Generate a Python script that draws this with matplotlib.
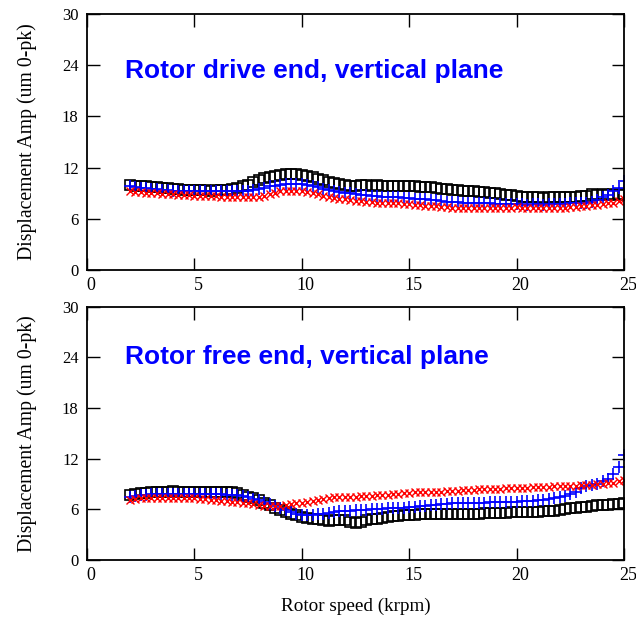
import matplotlib
matplotlib.use("Agg")
import matplotlib.pyplot as plt
import matplotlib.transforms as mtransforms
import numpy as np

# ---- data (Rotor speed in krpm, amplitude in um 0-pk) ----
rpm_start, rpm_step = 2.0, 0.25

top_black = [10.0, 9.9, 9.8, 9.8, 9.7, 9.7, 9.6, 9.6, 9.5, 9.5,
             9.4, 9.4, 9.4, 9.4, 9.4, 9.3, 9.4, 9.4, 9.4, 9.5,
             9.6, 9.8, 10.0, 10.3, 10.6, 10.8, 10.9, 11.0, 11.1, 11.2,
             11.2, 11.2, 11.1, 11.0, 10.9, 10.7, 10.5, 10.3, 10.2, 10.1,
             10.0, 9.9, 9.9, 10.0, 10.0, 9.9, 10.0, 9.9, 9.9, 9.9,
             9.9, 9.8, 9.8, 9.8, 9.7, 9.7, 9.7, 9.6, 9.5, 9.5,
             9.4, 9.4, 9.3, 9.3, 9.2, 9.1, 9.1, 9.0, 9.0, 8.9,
             8.8, 8.8, 8.7, 8.6, 8.6, 8.5, 8.5, 8.4, 8.5, 8.5,
             8.5, 8.5, 8.6, 8.6, 8.7, 8.7, 8.9, 8.8, 8.9, 8.8,
             8.9, 8.8, 8.9]
top_blue = [9.8, 9.7, 9.6, 9.6, 9.5, 9.5, 9.4, 9.4, 9.3, 9.3,
            9.3, 9.2, 9.2, 9.2, 9.2, 9.2, 9.2, 9.2, 9.2, 9.2,
            9.2, 9.2, 9.3, 9.4, 9.5, 9.6, 9.8, 9.9, 10.0, 10.1,
            10.1, 10.1, 10.1, 10.0, 9.9, 9.7, 9.5, 9.4, 9.2, 9.1,
            9.0, 9.0, 8.9, 8.8, 8.8, 8.7, 8.7, 8.6, 8.5, 8.5,
            8.5, 8.4, 8.4, 8.3, 8.3, 8.3, 8.2, 8.2, 8.1, 8.0,
            8.0, 8.0, 7.9, 7.9, 7.9, 7.8, 7.8, 7.8, 7.7, 7.7,
            7.7, 7.7, 7.7, 7.7, 7.6, 7.7, 7.7, 7.6, 7.7, 7.7,
            7.7, 7.7, 7.8, 7.8, 7.8, 7.9, 8.0, 8.2, 8.5, 8.8,
            9.2, 9.6, 10.4]
top_red = [9.2, 9.1, 9.1, 9.0, 9.0, 9.0, 8.9, 8.9, 8.9, 8.8,
           8.8, 8.8, 8.7, 8.7, 8.7, 8.7, 8.7, 8.6, 8.6, 8.6,
           8.6, 8.5, 8.5, 8.5, 8.6, 8.7, 8.9, 9.0, 9.2, 9.3,
           9.3, 9.3, 9.2, 9.1, 9.0, 8.9, 8.7, 8.6, 8.4, 8.3,
           8.3, 8.2, 8.1, 8.1, 8.0, 8.0, 7.9, 7.9, 7.9, 7.8,
           7.8, 7.7, 7.7, 7.6, 7.6, 7.5, 7.5, 7.5, 7.4, 7.4,
           7.3, 7.3, 7.3, 7.3, 7.3, 7.3, 7.3, 7.3, 7.3, 7.3,
           7.3, 7.3, 7.4, 7.3, 7.3, 7.3, 7.3, 7.3, 7.3, 7.3,
           7.3, 7.3, 7.4, 7.4, 7.5, 7.5, 7.6, 7.6, 7.7, 7.8,
           7.9, 8.1, 8.3]

bot_black = [7.7, 7.8, 7.9, 7.9, 8.0, 8.0, 8.0, 8.1, 8.2, 8.1,
             8.1, 8.1, 8.1, 8.1, 8.0, 8.1, 8.1, 8.0, 8.0, 8.0,
             7.9, 7.7, 7.5, 7.3, 7.1, 6.8, 6.5, 6.2, 5.9, 5.7,
             5.5, 5.3, 5.1, 5.0, 4.9, 4.8, 4.7, 4.6, 4.7, 4.7,
             4.7, 4.5, 4.4, 4.5, 4.7, 4.8, 4.9, 5.0, 5.1, 5.2,
             5.2, 5.3, 5.3, 5.3, 5.4, 5.4, 5.4, 5.4, 5.4, 5.4,
             5.4, 5.4, 5.5, 5.5, 5.5, 5.5, 5.6, 5.6, 5.6, 5.6,
             5.6, 5.7, 5.7, 5.7, 5.7, 5.7, 5.7, 5.8, 5.8, 5.8,
             5.9, 6.0, 6.1, 6.2, 6.3, 6.3, 6.4, 6.5, 6.5, 6.5,
             6.6, 6.6, 6.7]
bot_blue = [7.5, 7.6, 7.7, 7.7, 7.8, 7.8, 7.8, 7.8, 7.8, 7.8,
            7.8, 7.8, 7.8, 7.8, 7.8, 7.8, 7.8, 7.8, 7.7, 7.7,
            7.7, 7.6, 7.4, 7.2, 7.1, 6.9, 6.6, 6.4, 6.1, 5.9,
            5.7, 5.5, 5.3, 5.3, 5.3, 5.4, 5.5, 5.6, 5.7, 5.8,
            5.8, 5.8, 5.9, 5.9, 5.9, 6.0, 6.0, 6.0, 6.1, 6.1,
            6.2, 6.2, 6.3, 6.3, 6.4, 6.4, 6.5, 6.5, 6.6, 6.6,
            6.7, 6.7, 6.7, 6.8, 6.8, 6.8, 6.8, 6.9, 6.9, 6.9,
            6.9, 6.9, 6.9, 7.0, 7.0, 7.0, 7.1, 7.1, 7.2, 7.3,
            7.5, 7.6, 7.8, 8.1, 8.5, 8.7, 8.9, 9.0, 9.3, 9.6,
            10.2, 11.0, 12.4]
bot_red = [7.1, 7.2, 7.3, 7.3, 7.3, 7.3, 7.3, 7.3, 7.3, 7.3,
           7.3, 7.3, 7.3, 7.2, 7.2, 7.1, 7.1, 7.0, 7.0, 6.9,
           6.9, 6.8, 6.7, 6.6, 6.5, 6.4, 6.4, 6.4, 6.4, 6.5,
           6.6, 6.7, 6.8, 6.9, 7.0, 7.1, 7.2, 7.3, 7.4, 7.4,
           7.5, 7.5, 7.5, 7.6, 7.6, 7.6, 7.7, 7.7, 7.7, 7.8,
           7.8, 7.9, 7.9, 8.0, 8.0, 8.0, 8.1, 8.1, 8.1, 8.2,
           8.2, 8.2, 8.3, 8.3, 8.3, 8.4, 8.4, 8.4, 8.4, 8.4,
           8.5, 8.5, 8.5, 8.5, 8.5, 8.6, 8.6, 8.6, 8.6, 8.7,
           8.7, 8.7, 8.8, 8.8, 8.9, 8.9, 8.9, 9.0, 9.0, 9.1,
           9.1, 9.3, 9.5]

x_ticks = [0, 5, 10, 15, 20, 25]
y_ticks = [0, 6, 12, 18, 24, 30]
titles = ["Rotor drive end, vertical plane", "Rotor free end, vertical plane"]
ylabel = "Displacement Amp (um 0-pk)"
xlabel = "Rotor speed (krpm)"

rpm = rpm_start + rpm_step * np.arange(len(top_black))

serif = ["Liberation Serif", "DejaVu Serif"]
fig = plt.figure(figsize=(6.36, 6.19), dpi=100)
ax1 = fig.add_axes([87/636, 1-270/619, 537/636, 256/619])
ax2 = fig.add_axes([87/636, 1-560/619, 537/636, 253.5/619])

panels = [(ax1, top_black, top_blue, top_red, titles[0], 23.3),
          (ax2, bot_black, bot_blue, bot_red, titles[1], 24.0)]

shift = mtransforms.ScaledTranslation(4/100, 0, fig.dpi_scale_trans)

for ax, blk, blu, red, ttl, ty in panels:
    ax.plot(rpm, blk, linestyle='none', marker='s', markersize=7,
            markerfacecolor='none', markeredgecolor='black', markeredgewidth=1.2)
    ax.plot(rpm, blu, linestyle='none', marker='+', markersize=9,
            color='#0000ff', markeredgewidth=1.2)
    ax.plot(rpm, red, linestyle='none', marker='x', markersize=6,
            color='#ff0000', markeredgewidth=1.0)
    ax.set_xlim(0, 25)
    ax.set_ylim(0, 30)
    ax.set_xticks(x_ticks)
    ax.set_yticks(y_ticks)
    ax.tick_params(direction='in', length=9, width=1.0, top=True, right=True)
    ax.tick_params(axis='x', pad=5, labelsize=13)
    ax.tick_params(axis='y', pad=6, labelsize=12)
    for lab in ax.get_xticklabels():
        lab.set_fontfamily(serif)
        lab.set_transform(lab.get_transform() + shift)
    for lab in ax.get_yticklabels():
        lab.set_fontfamily(serif)
    for s in ax.spines.values():
        s.set_linewidth(1.3)
    ax.set_ylabel(ylabel, fontsize=14.2, family=serif, labelpad=18)
    ax.text(1.75, ty, ttl, color='#0000ff', fontsize=19, fontweight='bold',
            family=["Liberation Sans", "DejaVu Sans"], va='center', ha='left')

ax2.set_xlabel(xlabel, fontsize=13.8, family=serif, labelpad=10)

fig.savefig("out.png", dpi=100)
